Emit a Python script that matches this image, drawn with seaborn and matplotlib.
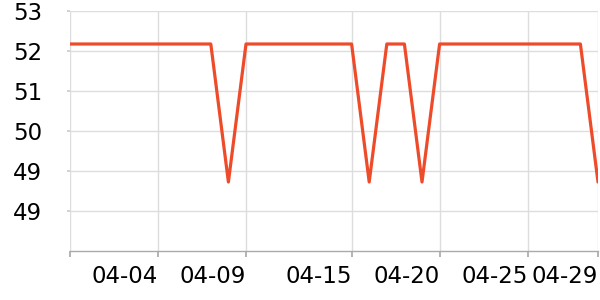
import matplotlib
matplotlib.use("Agg")
import matplotlib.pyplot as plt
import matplotlib.dates as mdates
import seaborn as sns
import pandas as pd
import numpy as np

dates = pd.date_range("2024-03-30", "2024-04-29", freq="D")
high = 51.94
low = 49.18
values = [high] * 9 + [low] + [high] * 7 + [low] + [high, high] + [low] + [high] * 9 + [low]
tick_dates = ["2024-03-30", "2024-04-04", "2024-04-09", "2024-04-15", "2024-04-20", "2024-04-25", "2024-04-29"]
tick_labels = ["", "04-04", "04-09", "04-15", "04-20", "04-25", "04-29"]
y_ticks = [48.6, 49.4, 50.2, 51.0, 51.8, 52.6]

df = pd.DataFrame({"date": dates, "value": values})

sns.set_theme(style="white")
plt.rcParams['font.family'] = ['DejaVu Sans']

fig = plt.figure(figsize=(6, 3), dpi=100)
ax = fig.add_axes([70 / 600, 1 - 251 / 300, 528 / 600, 240 / 300])
sns.lineplot(data=df, x="date", y="value", ax=ax, color="#EE4B2B", linewidth=2.3)

ax.set_xlim(dates[0], dates[-1])
ax.set_ylim(47.8, 52.6)
ax.set_yticks(y_ticks)
ax.set_yticklabels([f"{v:.0f}" for v in y_ticks])
ax.set_xticks(pd.to_datetime(tick_dates))
ax.set_xticklabels(tick_labels, ha="right")
ax.set_xlabel("")
ax.set_ylabel("")

ax.grid(True, color="#dddddd", linewidth=1)
for s in ["top", "right", "left"]:
    ax.spines[s].set_visible(False)
ax.spines["bottom"].set_color("#aaaaaa")
ax.spines["bottom"].set_linewidth(1)
ax.tick_params(axis="y", length=2, color="#cccccc", pad=18, labelsize=16.5, left=True, labelcolor="black")
ax.tick_params(axis="x", length=4, color="#aaaaaa", pad=6, labelsize=16.5, bottom=True, labelcolor="black")

fig.savefig("out.png", dpi=100)
